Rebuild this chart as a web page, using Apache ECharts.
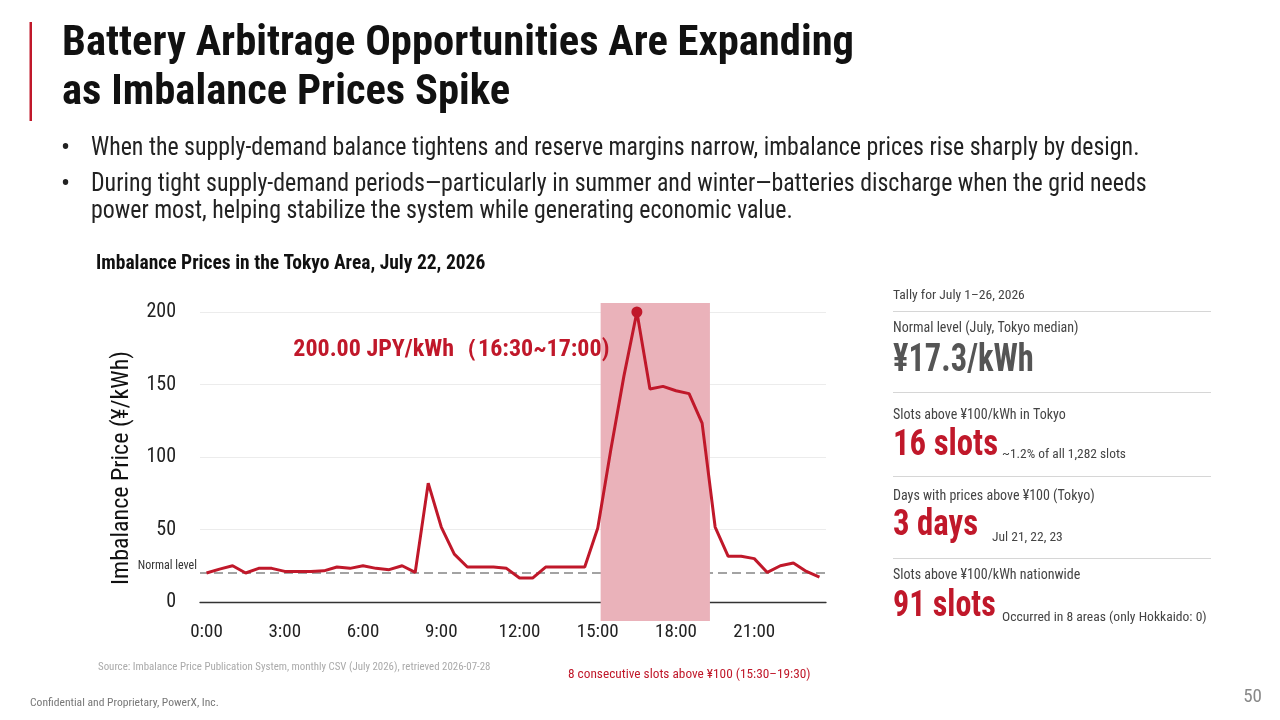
<!DOCTYPE html>
<html><head><meta charset="utf-8">
<script src="https://cdn.jsdelivr.net/npm/echarts@6.0.0/dist/echarts.min.js"></script>
<style>html,body{margin:0;padding:0;background:#fff;}#c{width:1280px;height:720px;}</style>
</head><body><div id="c"></div>
<script>
// ---- data ----
const slotTimes = ['0:00','0:30','1:00','1:30','2:00','2:30','3:00','3:30','4:00','4:30','5:00','5:30',
  '6:00','6:30','7:00','7:30','8:00','8:30','9:00','9:30','10:00','10:30','11:00','11:30',
  '12:00','12:30','13:00','13:30','14:00','14:30','15:00','15:30','16:00','16:30','17:00','17:30',
  '18:00','18:30','19:00','19:30','20:00','20:30','21:00','21:30','22:00','22:30','23:00','23:30'];
const prices = [20.0,22.7,25.0,20.0,23.2,23.2,21.1,21.1,21.1,21.5,24.1,23.2,
  25.0,23.2,22.3,25.0,20.4,82.0,51.7,33.0,24.1,24.1,24.1,23.2,
  16.5,16.5,24.1,24.1,24.1,24.1,51.0,105.0,155.6,200.0,146.9,148.7,
  145.7,143.7,123.4,51.7,31.5,31.5,29.9,20.4,25.0,26.9,21.1,17.2];
const yTicks = [0, 50, 100, 150, 200];
const normalLevelLine = 20.5;
const highlightSlots = [30.22, 38.6];   // shaded span, in slot units
const peakSlot = '16:30';
const peakValue = 200;
const peakLabel = '200.00 JPY/kWh（16:30~17:00)';

const F = "'Roboto Condensed','Liberation Sans Narrow','DejaVu Sans Condensed',Roboto,sans-serif";
const RED = '#C0182A';

function T(x, y, text, size, o) {
  o = o || {};
  return { type: 'text', x: x, y: y, silent: true, z: 10,
    scaleX: o.sx || 1, rotation: o.r || 0,
    style: { text: text, fontSize: size, fontFamily: F, fontWeight: o.w || 'normal',
      fill: o.c || '#222', align: o.a || 'left', verticalAlign: 'middle' } };
}
function HL(x1, x2, y, c) {
  return { type: 'line', silent: true, shape: { x1: x1, y1: y, x2: x2, y2: y },
    style: { stroke: c || '#d6d6d6', lineWidth: 1 } };
}

const chart = echarts.init(document.getElementById('c'));
chart.setOption({
  animation: false,
  backgroundColor: '#fff',
  textStyle: { fontFamily: F },
  grid: [
    { left: 200, right: 454, top: 312, bottom: 118 },
    { left: 200, right: 454, top: 303, bottom: 99 }
  ],
  xAxis: [
    { type: 'category', gridIndex: 0, data: slotTimes, boundaryGap: true,
      axisLine: { lineStyle: { color: '#333', width: 1.3 } },
      axisTick: { show: false },
      axisLabel: { interval: 5, color: '#222', fontSize: 19, margin: 21, fontFamily: F } },
    { type: 'value', gridIndex: 1, min: -0.5, max: slotTimes.length - 0.5, show: false }
  ],
  yAxis: [
    { type: 'value', gridIndex: 0, min: yTicks[0], max: yTicks[yTicks.length - 1],
      interval: yTicks[1] - yTicks[0],
      axisLine: { show: false }, axisTick: { show: false },
      axisLabel: { color: '#222', fontSize: 20, margin: 24, fontFamily: F },
      splitLine: { lineStyle: { color: '#ececec', width: 1 } } },
    { type: 'value', gridIndex: 1, min: 0, max: 1, show: false }
  ],
  series: [
    { type: 'line', xAxisIndex: 1, yAxisIndex: 1, data: [], silent: true,
      markArea: { silent: true, z: 3, itemStyle: { color: '#EAB2BA' },
        data: [[{ xAxis: highlightSlots[0] }, { xAxis: highlightSlots[1] }]] } },
    { type: 'line', xAxisIndex: 0, yAxisIndex: 0, data: [], silent: true,
      markLine: { silent: true, z: 2, symbol: 'none',
        lineStyle: { color: '#a3a3a3', type: [9, 5], width: 2 },
        label: { position: 'start', formatter: 'Normal level', fontSize: 12, color: '#333',
          fontFamily: F, distance: 3, verticalAlign: 'bottom' },
        data: [{ yAxis: normalLevelLine }] } },
    { type: 'line', xAxisIndex: 0, yAxisIndex: 0, data: prices, z: 5,
      symbol: 'none', lineStyle: { color: RED, width: 3 }, itemStyle: { color: RED },
      markPoint: { z: 6, symbol: 'circle', symbolSize: 11, itemStyle: { color: RED },
        label: { show: true, position: 'left', distance: 22, offset: [0, 38],
          formatter: peakLabel, color: RED, fontSize: 24, fontWeight: 'bold', fontFamily: F },
        data: [{ coord: [peakSlot, peakValue] }] } }
  ],
  graphic: [
    { type: 'rect', silent: true, shape: { x: 29.5, y: 22, width: 2.5, height: 99 }, style: { fill: RED } },
    T(62, 44, 'Battery Arbitrage Opportunities Are Expanding', 43, { c: '#111', w: 'bold', sx: 0.99 }),
    T(62, 93, 'as Imbalance Prices Spike', 43, { c: '#111', w: 'bold', sx: 0.99 }),
    T(61, 149, '•', 27, { c: '#222' }),
    T(91, 149, 'When the supply-demand balance tightens and reserve margins narrow, imbalance prices rise sharply by design.', 25, { sx: 0.954 }),
    T(61, 185, '•', 27, { c: '#222' }),
    T(91, 185, 'During tight supply-demand periods—particularly in summer and winter—batteries discharge when the grid needs', 25, { sx: 0.954 }),
    T(91, 212, 'power most, helping stabilize the system while generating economic value.', 25, { sx: 0.954 }),
    T(96, 264, 'Imbalance Prices in the Tokyo Area, July 22, 2026', 19.5, { c: '#111', w: 'bold' }),
    T(122, 468, 'Imbalance Price (¥/kWh)', 24, { c: '#111', a: 'center', r: Math.PI / 2 }),

    T(893, 296, 'Tally for July 1–26, 2026', 13.6, { c: '#444' }),
    HL(893, 1211, 311.5),
    T(893, 328, 'Normal level (July, Tokyo median)', 14, { c: '#444' }),
    T(893, 361, '¥17.3/kWh', 38, { c: '#555', w: 'bold', sx: 0.855 }),
    HL(893, 1211, 392.5),
    T(893, 415, 'Slots above ¥100/kWh in Tokyo', 14, { c: '#444' }),
    T(893, 446, '16 slots', 36, { c: RED, w: 'bold', sx: 0.91 }),
    T(1002, 455, '~1.2% of all 1,282 slots', 13.4, { c: '#444' }),
    HL(893, 1211, 476.5),
    T(893, 496, 'Days with prices above ¥100 (Tokyo)', 14, { c: '#444' }),
    T(893, 526, '3 days', 36, { c: RED, w: 'bold', sx: 0.91 }),
    T(992, 538, 'Jul 21, 22, 23', 13.5, { c: '#444' }),
    HL(893, 1211, 558.5),
    T(893, 575, 'Slots above ¥100/kWh nationwide', 14, { c: '#444' }),
    T(893, 607, '91 slots', 36, { c: RED, w: 'bold', sx: 0.89 }),
    T(1002, 618, 'Occurred in 8 areas (only Hokkaido: 0)', 13.6, { c: '#444' }),

    T(98, 667, 'Source: Imbalance Price Publication System, monthly CSV (July 2026), retrieved 2026-07-28', 10.9, { c: '#aaa' }),
    T(568, 675, '8 consecutive slots above ¥100 (15:30–19:30)', 13.3, { c: RED }),
    T(30, 703, 'Confidential and Proprietary, PowerX, Inc.', 11.6, { c: '#777' }),
    T(1262, 697, '50', 19, { c: '#888', a: 'right' })
  ]
});
</script>
</body></html>
